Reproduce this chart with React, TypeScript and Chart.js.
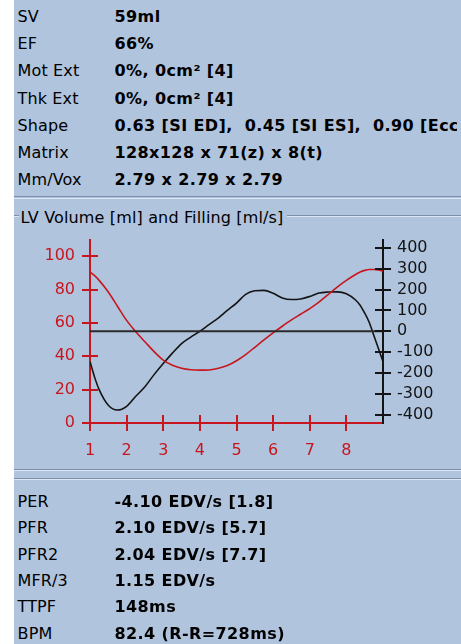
import React, { useEffect, useRef } from "react";
import { Chart, registerables } from "chart.js";

Chart.register(...registerables);

// ---------- data ----------
const TOP_LABELS = ["SV", "EF", "Mot Ext", "Thk Ext", "Shape", "Matrix", "Mm/Vox"];
const TOP_VALUES = [
  "59ml",
  "66%",
  "0%, 0cm\u00B2 [4]",
  "0%, 0cm\u00B2 [4]",
  "0.63 [SI ED],  0.45 [SI ES],  0.90 [Ecc]",
  "128x128 x 71(z) x 8(t)",
  "2.79 x 2.79 x 2.79",
];
const BOTTOM_LABELS = ["PER", "PFR", "PFR2", "MFR/3", "TTPF", "BPM"];
const BOTTOM_VALUES = [
  "-4.10 EDV/s [1.8]",
  "2.10 EDV/s [5.7]",
  "2.04 EDV/s [7.7]",
  "1.15 EDV/s",
  "148ms",
  "82.4 (R-R=728ms)",
];
const CHART_TITLE = "LV Volume [ml] and Filling [ml/s]";

// time (frame) positions
const FRAME_T = [
  1, 1.125, 1.25, 1.5, 1.75, 2, 2.25, 2.5, 2.75, 3, 3.25, 3.5, 3.75, 4, 4.25, 4.5, 4.75, 5,
  5.25, 5.5, 5.75, 6, 6.25, 6.5, 6.75, 7, 7.25, 7.5, 7.75, 8, 8.25, 8.375, 8.5, 8.625, 8.75,
  8.875, 9,
];
// LV volume [ml] (left axis)
const VOLUME = [
  90.5, 88.3, 85.5, 78.5, 70, 61.5, 54.7, 48.7, 42.8, 37.7, 34.6, 32.8, 31.9, 31.7, 31.8, 32.8,
  34.4, 37.3, 41, 45.4, 49.8, 54, 58, 61.8, 65.2, 68.6, 72.5, 77, 81.5, 85.5, 89, 90.5, 91.5, 92,
  92, 91.8, 91,
];
// Filling rate [ml/s] (right axis)
const FILLING = [
  -145, -220, -280, -355, -378, -360, -312, -266, -208, -155, -105, -59, -28, 0, 32, 63, 100, 135,
  177, 194, 196, 182, 160, 152, 155, 167, 183, 188, 189, 180, 150, 125, 87, 42, -20, -83, -145,
];
const ZERO_T = [1, 9];
const ZERO_V = [0, 0];

const X_TICKS = [1, 2, 3, 4, 5, 6, 7, 8];
const LEFT_TICKS = [0, 20, 40, 60, 80, 100];
const RIGHT_TICKS = [-400, -300, -200, -100, 0, 100, 200, 300, 400];

// ---------- styles ----------
const RED = "#C8161E";
const BLACK = "#141414";
const BG = "#B0C4DE";
const DARK_LINE = "#7C8EAA";
const LIGHT_LINE = "#DCE6F2";
const FONT = "'DejaVu Sans', Verdana, sans-serif";

const crossTicks = {
  id: "crossTicks",
  afterDraw(chart: any) {
    const ctx = chart.ctx;
    const area = chart.chartArea;
    const draw = (id: string, color: string) => {
      const s = chart.scales[id];
      ctx.save();
      ctx.strokeStyle = color;
      ctx.lineWidth = 2;
      s.ticks.forEach((t: any) => {
        const p = Math.round(s.getPixelForValue(t.value));
        ctx.beginPath();
        if (id === "x") {
          const y = Math.round(area.bottom);
          ctx.moveTo(p, y - 8);
          ctx.lineTo(p, y + 8);
        } else {
          const x = Math.round(id === "yL" ? area.left : area.right);
          ctx.moveTo(x - 8, p);
          ctx.lineTo(x + 8, p);
        }
        ctx.stroke();
      });
      ctx.restore();
    };
    draw("x", RED);
    draw("yL", RED);
    draw("yR", BLACK);
  },
};

const noVPad = (s: any, w: number) => {
  s.width = w;
  s.paddingTop = 0;
  s.paddingBottom = 0;
};

function ChartBox() {
  const ref = useRef<HTMLCanvasElement | null>(null);
  useEffect(() => {
    if (!ref.current) return;
    const tickFont = { family: FONT, size: 16 };
    const chart = new Chart(ref.current, {
      type: "line",
      data: {
        datasets: [
          {
            label: "Zero",
            data: ZERO_T.map((t, i) => ({ x: t, y: ZERO_V[i] })),
            yAxisID: "yR",
            borderColor: "#2A2A2A",
            borderWidth: 2,
            pointRadius: 0,
            tension: 0,
          },
          {
            label: "Volume",
            data: FRAME_T.map((t, i) => ({ x: t, y: VOLUME[i] })),
            yAxisID: "yL",
            borderColor: RED,
            borderWidth: 1.6,
            pointRadius: 0,
            cubicInterpolationMode: "monotone",
          },
          {
            label: "Filling",
            data: FRAME_T.map((t, i) => ({ x: t, y: FILLING[i] })),
            yAxisID: "yR",
            borderColor: BLACK,
            borderWidth: 1.6,
            pointRadius: 0,
            cubicInterpolationMode: "monotone",
          },
        ],
      },
      options: {
        responsive: false,
        animation: false,
        layout: { padding: { top: 14.5, left: 0, right: 0, bottom: 0 } },
        plugins: {
          legend: { display: false },
          tooltip: { enabled: false },
          title: { display: false },
        },
        scales: {
          x: {
            type: "linear",
            position: "bottom",
            min: 1,
            max: 9,
            afterBuildTicks: (s: any) => {
              s.ticks = X_TICKS.map((v) => ({ value: v }));
            },
            afterFit: (s: any) => {
              s.height = 47;
              s.paddingLeft = 0;
              s.paddingRight = 0;
            },
            grid: { display: false, drawTicks: false },
            border: { display: true, color: RED, width: 2 },
            ticks: {
              color: RED,
              font: tickFont,
              padding: 18,
              maxRotation: 0,
              autoSkip: false,
              callback: (v: any) => String(v),
            },
          },
          yL: {
            type: "linear",
            position: "left",
            min: 0,
            max: 110,
            afterBuildTicks: (s: any) => {
              s.ticks = LEFT_TICKS.map((v) => ({ value: v }));
            },
            afterFit: (s: any) => noVPad(s, 76),
            grid: { display: false, drawTicks: false },
            border: { display: true, color: RED, width: 2 },
            ticks: {
              color: RED,
              font: tickFont,
              padding: 15,
              autoSkip: false,
              callback: (v: any) => String(v),
            },
          },
          yR: {
            type: "linear",
            position: "right",
            min: -440,
            max: 440,
            afterBuildTicks: (s: any) => {
              s.ticks = RIGHT_TICKS.map((v) => ({ value: v }));
            },
            afterFit: (s: any) => noVPad(s, 78),
            grid: { display: false, drawTicks: false },
            border: { display: true, color: BLACK, width: 2 },
            ticks: {
              color: BLACK,
              font: tickFont,
              padding: 14,
              autoSkip: false,
              callback: (v: any) => String(v),
            },
          },
        },
      } as any,
      plugins: [crossTicks],
    });
    return () => chart.destroy();
  }, []);
  return (
    <canvas
      ref={ref}
      width={447}
      height={245}
      style={{ position: "absolute", left: 0, top: 225, width: 447, height: 245, display: "block" }}
    />
  );
}

function hline(top: number, color: string, left = 0, width: number | string = "100%") {
  return (
    <div
      style={{ position: "absolute", top, left, width, height: 1, background: color }}
    />
  );
}

export default function App() {
  const textBase: React.CSSProperties = {
    position: "absolute",
    fontFamily: FONT,
    fontSize: 16,
    lineHeight: "20px",
    whiteSpace: "pre",
    color: "#000",
    letterSpacing: "0.15px",
  };
  const boldText: React.CSSProperties = {
    ...textBase,
    fontWeight: "bold",
    letterSpacing: "0.4px",
    width: 342,
    overflow: "hidden",
  };
  return (
    <div
      style={{
        position: "absolute",
        left: 0,
        top: 0,
        width: 461,
        height: 644,
        background: "#fff",
        overflow: "hidden",
      }}
    >
      <div
        style={{
          position: "absolute",
          left: 14,
          top: 0,
          width: 447,
          height: 644,
          background: BG,
          overflow: "hidden",
        }}
      >
        {TOP_LABELS.map((l, i) => (
          <div key={"tl" + i} style={{ ...textBase, left: 3.5, top: 7.2 + 27.1 * i }}>
            {l}
          </div>
        ))}
        {TOP_VALUES.map((v, i) => (
          <div key={"tv" + i} style={{ ...boldText, left: 100.5, top: 7.2 + 27.1 * i }}>
            {v}
          </div>
        ))}

        {hline(196, DARK_LINE)}
        {hline(198, LIGHT_LINE)}

        {hline(215, DARK_LINE, 0, 5)}
        {hline(216, LIGHT_LINE, 0, 5)}
        {hline(215, DARK_LINE, 273, 174)}
        {hline(216, LIGHT_LINE, 273, 174)}
        <div style={{ ...textBase, left: 6.5, top: 207.5 }}>{CHART_TITLE}</div>

        <ChartBox />

        {hline(469, DARK_LINE)}
        {hline(470, LIGHT_LINE)}
        {hline(478, DARK_LINE)}
        {hline(479, LIGHT_LINE)}

        {BOTTOM_LABELS.map((l, i) => (
          <div key={"bl" + i} style={{ ...textBase, left: 3.5, top: 492 + 26.3 * i }}>
            {l}
          </div>
        ))}
        {BOTTOM_VALUES.map((v, i) => (
          <div key={"bv" + i} style={{ ...boldText, left: 100.5, top: 492 + 26.3 * i }}>
            {v}
          </div>
        ))}
      </div>
    </div>
  );
}
